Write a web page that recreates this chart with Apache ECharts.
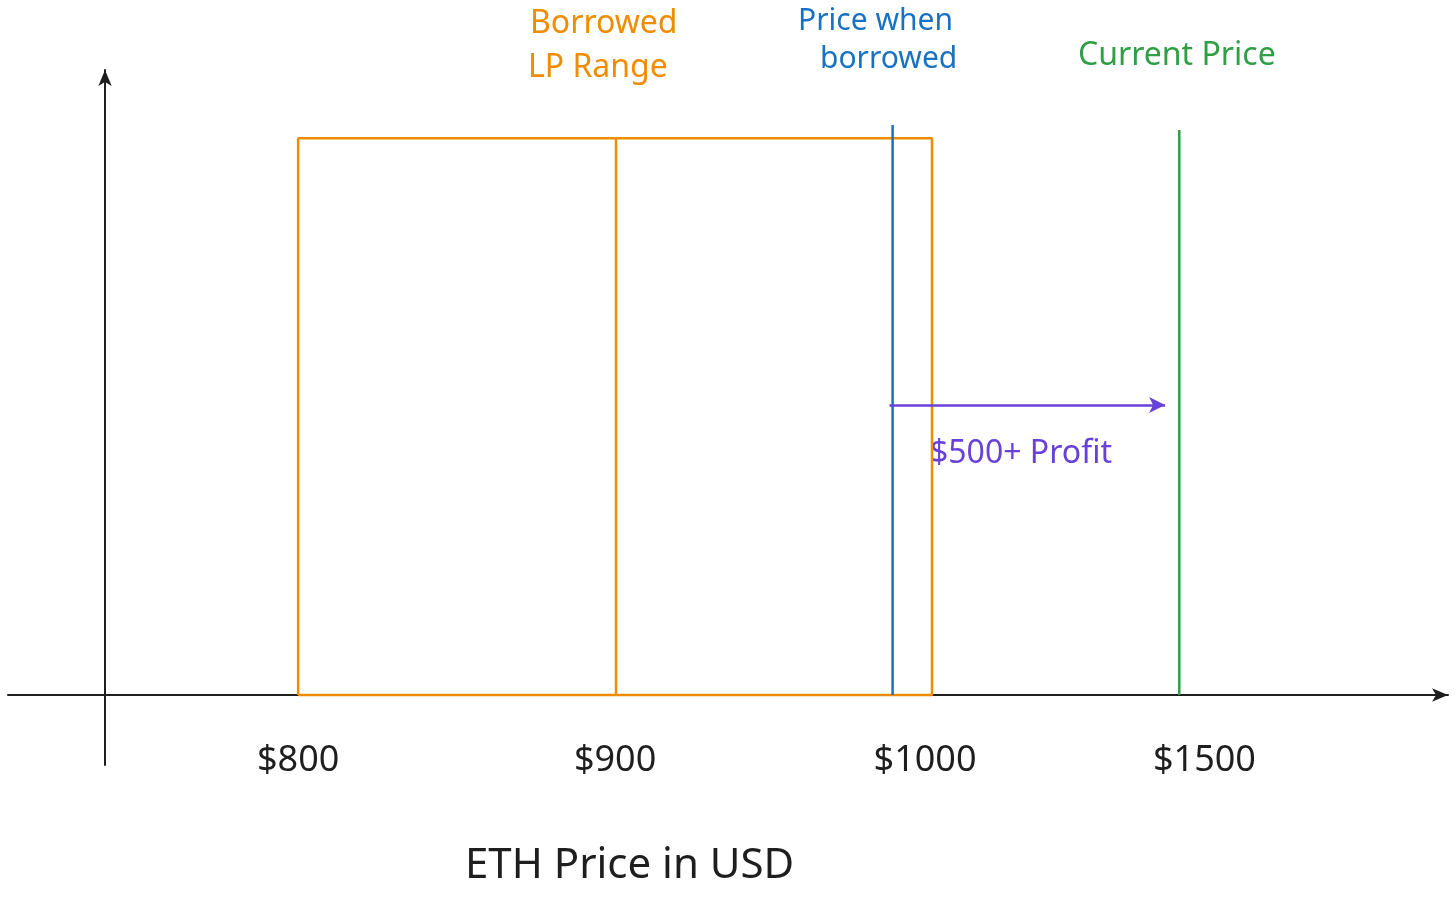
<!DOCTYPE html>
<html><head><meta charset="utf-8">
<script src="https://cdn.jsdelivr.net/npm/echarts@6/dist/echarts.min.js"></script>
<style>html,body{margin:0;background:#fff}#c{width:1456px;height:915px}</style></head>
<body><div id="c"></div>
<script>
// x axis is in "slots" (the sketch is not to scale); each tick price has a slot
const tickPrices = [800, 900, 1000, 1500];
const tickSlots = [0.613, 1.619, 2.603, 3.49];
const rangeSlots = [0.613, 1.622, 2.625]; // LP range left, middle divider, right
const rangeTop = 89.1;
const borrowedSlot = 2.50, borrowedTop = 91.2;
const currentSlot = 3.41, currentTop = 90.4;
const arrowFrom = 2.49, arrowTo = 3.365, arrowY = 46.4;

const F = '"Noto Sans", sans-serif';
const chart = echarts.init(document.getElementById('c'));
const line = (data, color) => ({type:'line', data, symbol:'none', lineStyle:{color, width:2.5}, silent:true, animation:false});
chart.setOption({
  animation:false,
  grid:{left:8, right:8, top:70, bottom:150},
  xAxis:{type:'value', min:-0.308, max:4.263, splitLine:{show:false},
    axisLine:{onZero:true, symbol:['none','arrow'], symbolSize:[10,16], lineStyle:{color:'#1e1e1e', width:2}},
    axisTick:{show:false},
    axisLabel:{customValues:tickSlots, margin:-22, fontSize:36, fontFamily:F, color:'#1e1e1e',
      formatter:v=>'$'+tickPrices[tickSlots.indexOf(v)]}},
  yAxis:{type:'value', min:-11.2, max:100, splitLine:{show:false}, axisTick:{show:false}, axisLabel:{show:false},
    axisLine:{onZero:true, symbol:['none','arrow'], symbolSize:[10,16], lineStyle:{color:'#1e1e1e', width:2}}},
  series:[
    line([[rangeSlots[0],0],[rangeSlots[0],rangeTop],[rangeSlots[2],rangeTop],[rangeSlots[2],0],[rangeSlots[0],0]], '#f08c00'),
    line([[rangeSlots[1],0],[rangeSlots[1],rangeTop]], '#f08c00'),
    line([[borrowedSlot,0],[borrowedSlot,borrowedTop]], '#1971c2'),
    line([[currentSlot,0],[currentSlot,currentTop]], '#2f9e44'),
    {type:'line', data:[], markLine:{silent:true, symbol:['none','arrow'], symbolSize:[12,16], label:{show:false},
      lineStyle:{color:'#6741d9', width:2.5, type:'solid'},
      data:[[{coord:[arrowFrom,arrowY]},{coord:[arrowTo,arrowY]}]]}}
  ],
  graphic:[
    {type:'text', left:530, top:8, style:{text:'Borrowed', fill:'#f08c00', font:'32px '+F}},
    {type:'text', left:528, top:52, style:{text:'LP Range', fill:'#f08c00', font:'32px '+F}},
    {type:'text', left:798, top:6, style:{text:'Price when', fill:'#1971c2', font:'30px '+F}},
    {type:'text', left:820, top:44, style:{text:'borrowed', fill:'#1971c2', font:'30px '+F}},
    {type:'text', left:1078, top:40, style:{text:'Current Price', fill:'#2f9e44', font:'32px '+F}},
    {type:'text', left:930, top:438, style:{text:'$500+ Profit', fill:'#6741d9', font:'32px '+F}},
    {type:'text', left:465, top:845, style:{text:'ETH Price in USD', fill:'#1e1e1e', font:'42px '+F}}
  ]
});
</script></body></html>
